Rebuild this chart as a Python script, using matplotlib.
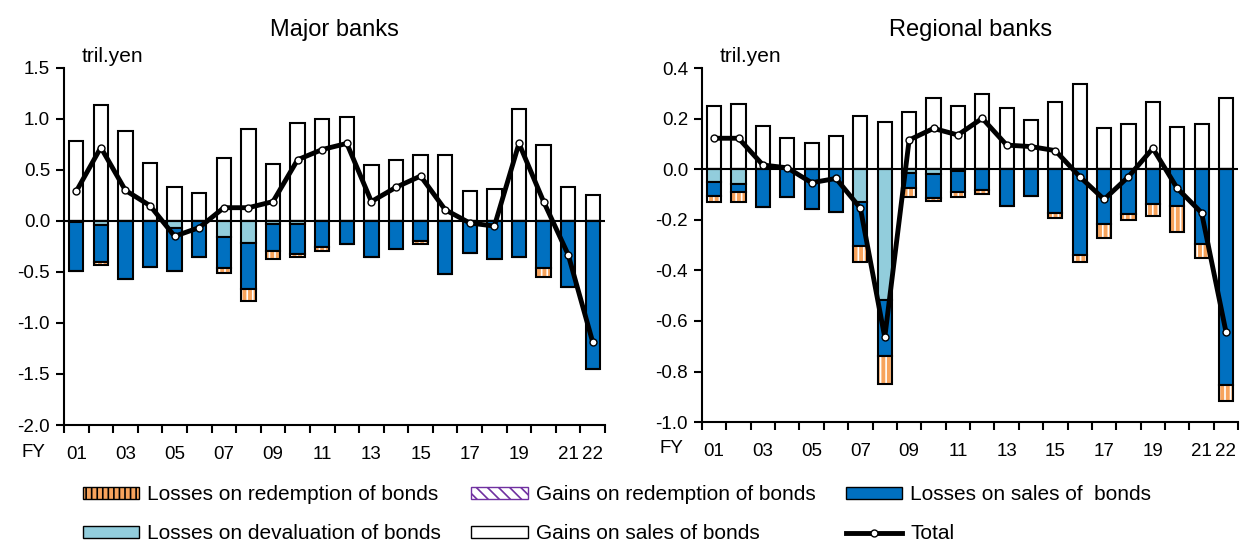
import numpy as np
import matplotlib
matplotlib.use("Agg")
import matplotlib.pyplot as plt
from matplotlib.patches import Patch
from matplotlib.lines import Line2D

plt.rcParams['font.family'] = ['Liberation Sans', 'DejaVu Sans']
plt.rcParams['hatch.linewidth'] = 1.2

years = ["01", "02", "03", "04", "05", "06", "07", "08", "09", "10", "11",
         "12", "13", "14", "15", "16", "17", "18", "19", "20", "21", "22"]
tick_labels = ["01", "", "03", "", "05", "", "07", "", "09", "", "11",
               "", "13", "", "15", "", "17", "", "19", "", "21", "22"]

# Major banks (tril. yen)
major_gain_sales = [0.78, 1.14, 0.88, 0.57, 0.33, 0.27, 0.62, 0.90, 0.56, 0.96, 1.00,
                    1.02, 0.55, 0.60, 0.65, 0.65, 0.29, 0.31, 1.10, 0.74, 0.33, 0.25]
major_gain_redem = [0.0] * 22
major_loss_deval = [-0.01, -0.04, 0.0, 0.0, -0.065, 0.0, -0.157, -0.215, -0.03, -0.03, 0.0,
                    0.0, 0.0, 0.0, 0.0, 0.0, 0.0, 0.0, 0.0, 0.0, 0.0, 0.0]
major_loss_sales = [-0.48, -0.36, -0.57, -0.45, -0.425, -0.35, -0.303, -0.455, -0.26, -0.29, -0.255,
                    -0.23, -0.35, -0.27, -0.196, -0.52, -0.31, -0.37, -0.35, -0.46, -0.65, -1.45]
major_loss_redem = [0.0, -0.03, 0.0, 0.0, 0.0, 0.0, -0.05, -0.11, -0.085, -0.03, -0.035,
                    0.0, 0.0, 0.0, -0.034, 0.0, 0.0, 0.0, 0.0, -0.09, 0.0, 0.0]
major_total = [0.29, 0.72, 0.30, 0.15, -0.15, -0.065, 0.13, 0.13, 0.19, 0.60, 0.70,
               0.76, 0.19, 0.33, 0.44, 0.11, -0.02, -0.05, 0.76, 0.19, -0.33, -1.19]

# Regional banks (tril. yen)
reg_gain_sales = [0.252, 0.258, 0.171, 0.123, 0.105, 0.132, 0.211, 0.187, 0.226, 0.281, 0.251,
                  0.298, 0.242, 0.194, 0.265, 0.337, 0.162, 0.179, 0.265, 0.169, 0.179, 0.281]
reg_gain_redem = [0.0] * 22
reg_loss_deval = [-0.049, -0.058, 0.0, 0.0, 0.0, 0.0, -0.128, -0.518, -0.016, -0.018, -0.005,
                  0.0, 0.0, 0.0, 0.0, 0.0, 0.0, 0.0, 0.0, 0.0, 0.0, 0.0]
reg_loss_sales = [-0.057, -0.033, -0.148, -0.111, -0.155, -0.168, -0.174, -0.221, -0.059, -0.094, -0.086,
                  -0.082, -0.144, -0.105, -0.172, -0.337, -0.217, -0.177, -0.139, -0.144, -0.297, -0.854]
reg_loss_redem = [-0.022, -0.037, 0.0, 0.0, 0.0, 0.0, -0.064, -0.111, -0.036, -0.014, -0.02,
                  -0.016, 0.0, 0.0, -0.02, -0.03, -0.054, -0.024, -0.045, -0.105, -0.055, -0.062]
reg_total = [0.123, 0.123, 0.017, 0.006, -0.053, -0.036, -0.154, -0.665, 0.116, 0.162, 0.136,
             0.202, 0.096, 0.09, 0.074, -0.029, -0.119, -0.029, 0.083, -0.075, -0.172, -0.643]

c_orange = '#F7A35C'
c_purple = '#7030A0'
c_blue = '#0070C0'
c_light = '#92CDDC'


def draw(ax, gain_sales, gain_redem, loss_deval, loss_sales, loss_redem, total,
         title, ylim, yticks):
    x = np.arange(len(years))
    w = 0.58
    ld = np.array(loss_deval)
    ls = np.array(loss_sales)
    lr = np.array(loss_redem)
    gs = np.array(gain_sales)
    gr = np.array(gain_redem)
    kw = dict(width=w, edgecolor='black', linewidth=1.5, zorder=2)
    ax.bar(x, gs, bottom=gr, color='white', **kw)
    ax.bar(x, gr, color='white', hatch='\\\\\\', **kw)
    ax.bar(x, ld, color=c_light, **kw)
    ax.bar(x, ls, bottom=ld, color=c_blue, **kw)
    # striped losses on redemption: orange face with white stripes, black outline
    ax.bar(x, lr, bottom=ld + ls, color=c_orange, edgecolor='white', hatch='|||',
           linewidth=0, width=w, zorder=2)
    ax.bar(x, lr, bottom=ld + ls, fill=False, edgecolor='black', linewidth=1.5,
           width=w, zorder=2.1)
    ax.axhline(0, color='black', linewidth=1.5, zorder=3)
    ax.plot(x, total, color='black', linewidth=3.5, marker='o', markersize=5,
            markerfacecolor='white', markeredgecolor='black', markeredgewidth=1,
            zorder=4)
    ax.set_xlim(-0.5, len(years) - 0.5)
    ax.set_ylim(*ylim)
    ax.set_yticks(yticks)
    ax.set_yticklabels([f"{v:.1f}" for v in yticks], fontsize=13.5)
    ax.set_xticks(x)
    ax.set_xticklabels(tick_labels, fontsize=13.5)
    ax.set_xticks(np.arange(len(years) + 1) - 0.5, minor=True)
    ax.tick_params(axis='x', which='major', length=0, pad=15)
    ax.tick_params(axis='x', which='minor', length=6, width=1.5, direction='out')
    ax.tick_params(axis='y', length=6, width=1.5, direction='out', pad=4)
    for s in ['top', 'right']:
        ax.spines[s].set_visible(False)
    for s in ['left', 'bottom']:
        ax.spines[s].set_linewidth(1.5)
    ax.set_title(title, fontsize=17, pad=23)
    ax.text(0.033, 1.005, "tril.yen", transform=ax.transAxes, fontsize=15,
            va='bottom', ha='left')
    ax.text(-0.035, -0.076, "FY", transform=ax.transAxes, fontsize=13.5,
            va='center', ha='right')


fig = plt.figure(figsize=(12.44, 5.46), dpi=100)
ax1 = fig.add_axes([0.0514, 0.2216, 0.435, 0.654])
ax2 = fig.add_axes([0.5643, 0.227, 0.431, 0.648])

draw(ax1, major_gain_sales, major_gain_redem, major_loss_deval, major_loss_sales,
     major_loss_redem, major_total, "Major banks", (-2.0, 1.5),
     [-2.0, -1.5, -1.0, -0.5, 0.0, 0.5, 1.0, 1.5])
draw(ax2, reg_gain_sales, reg_gain_redem, reg_loss_deval, reg_loss_sales,
     reg_loss_redem, reg_total, "Regional banks", (-1.0, 0.4),
     [-1.0, -0.8, -0.6, -0.4, -0.2, 0.0, 0.2, 0.4])

handles = [
    Patch(facecolor=c_orange, edgecolor='black', hatch='|||'),
    Patch(facecolor=c_light, edgecolor='black'),
    Patch(facecolor='white', edgecolor=c_purple, hatch='\\\\\\'),
    Patch(facecolor='white', edgecolor='black'),
    Patch(facecolor=c_blue, edgecolor='black'),
    Line2D([], [], color='black', linewidth=3.5, marker='o', markersize=5,
           markerfacecolor='white', markeredgecolor='black'),
]
labels = ["Losses on redemption of bonds", "Losses on devaluation of bonds",
          "Gains on redemption of bonds", "Gains on sales of bonds",
          "Losses on sales of  bonds", "Total"]
fig.legend(handles, labels, ncol=3, loc='center', bbox_to_anchor=(0.496, 0.058),
           frameon=False, fontsize=15, handlelength=2.7, handleheight=0.5,
           columnspacing=1.45, handletextpad=0.4, labelspacing=0.95)

fig.savefig("out.png", dpi=100)
